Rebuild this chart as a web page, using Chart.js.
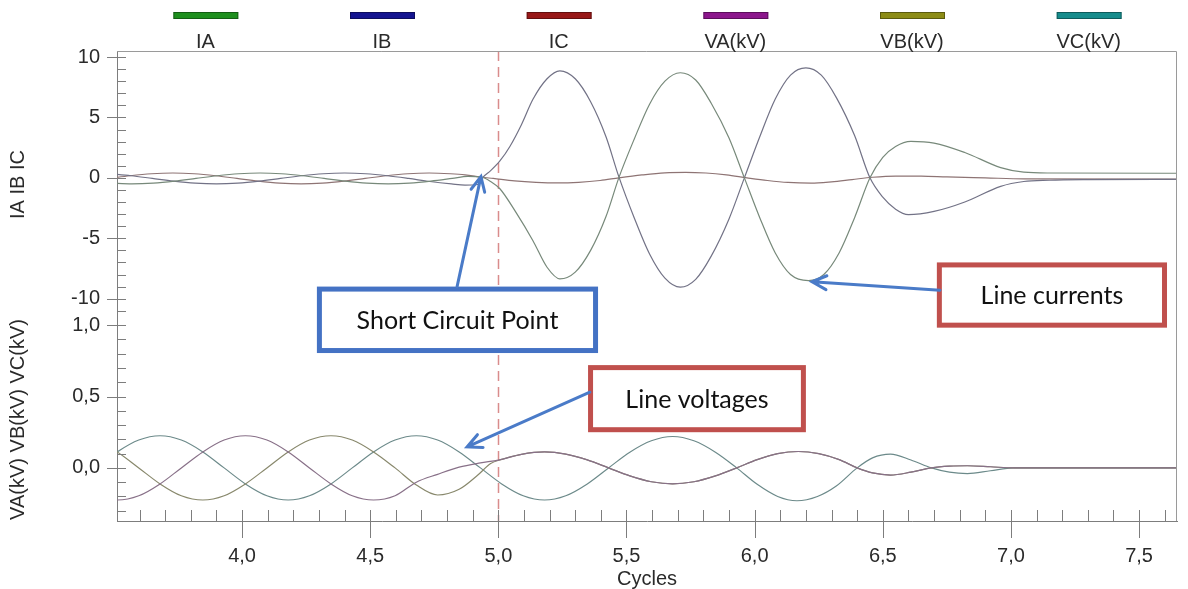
<!DOCTYPE html>
<html>
<head>
<meta charset="utf-8">
<title>Short circuit – line currents and voltages</title>
<script src="https://cdn.jsdelivr.net/npm/chart.js@4.4.1/dist/chart.umd.min.js"></script>
<style>
  html, body { margin: 0; padding: 0; background: #fff; }
  #wrap { position: relative; width: 1188px; height: 589px; }
</style>
</head>
<body>
<div id="wrap"><canvas id="chart"></canvas></div>
<script>
// Courbes relevées à l'œil sur l'oscillogramme (abscisse en cycles)

// ── Courants de ligne (panneau du haut) ─────────────
const iaCycles = [3.487, 3.570, 3.653, 3.737, 3.820, 3.903, 3.987, 4.070, 4.153, 4.237, 4.320, 4.403, 4.487, 4.570, 4.653, 4.737, 4.820, 4.880, 4.936,
    4.970, 5.006, 5.070, 5.135, 5.190, 5.240, 5.300, 5.360, 5.420, 5.470, 5.530, 5.590, 5.650, 5.710, 5.770, 5.830, 5.900, 5.960,
    6.020, 6.080, 6.140, 6.210, 6.270, 6.330, 6.390, 6.450, 6.500, 6.550, 6.610, 6.700, 6.820, 6.960, 7.050, 7.150, 7.700];
const iaValues = [-0.44, -0.50, -0.44, -0.275, -0.05, 0.175, 0.34, 0.40, 0.34, 0.175, -0.05, -0.275, -0.44, -0.50, -0.44, -0.275, -0.05, 0.12, 0.05,
    -0.3, -0.9, -2.9, -5.2, -7.4, -8.36, -7.8, -6.0, -3.2, 0, 3.2, 6.1, 8.0, 8.7, 8.1, 6.2, 3.3, 0,
    -3.3, -6.2, -8.0, -8.5, -8.0, -6.2, -3.3, 0, 1.7, 2.6, 3.02, 2.88, 2.1, 0.85, 0.47, 0.4, 0.38];

const ibCycles = [3.483, 3.567, 3.650, 3.733, 3.817, 3.900, 3.983, 4.067, 4.150, 4.233, 4.317, 4.400, 4.483, 4.567, 4.650, 4.733, 4.817, 4.870, 4.920, 4.940,
    4.970, 5.006, 5.045, 5.090, 5.135, 5.190, 5.240, 5.300, 5.360, 5.420, 5.470, 5.530, 5.590, 5.650, 5.710, 5.770, 5.830, 5.900, 5.960,
    6.020, 6.080, 6.140, 6.200, 6.260, 6.320, 6.390, 6.450, 6.500, 6.550, 6.600, 6.700, 6.820, 6.960, 7.050, 7.150, 7.300, 7.700];
const ibValues = [0.34, 0.175, -0.05, -0.275, -0.44, -0.50, -0.44, -0.275, -0.05, 0.175, 0.34, 0.40, 0.34, 0.175, -0.05, -0.3, -0.5, -0.6, -0.55, 0.05,
    0.6, 1.4, 2.6, 4.4, 6.5, 8.2, 8.86, 8.2, 6.3, 3.4, 0.1, -3.3, -6.3, -8.3, -9.05, -8.4, -6.5, -3.4, 0,
    3.4, 6.5, 8.5, 9.1, 8.5, 6.6, 3.5, 0, -1.6, -2.6, -3.05, -2.78, -2.0, -0.7, -0.3, -0.2, -0.15, -0.12];

const icCycles = [3.480, 3.563, 3.647, 3.730, 3.813, 3.897, 3.980, 4.063, 4.147, 4.230, 4.313, 4.397, 4.480, 4.563, 4.647, 4.730, 4.813,
    4.870, 4.936, 4.980, 5.063, 5.147, 5.230, 5.313, 5.397, 5.470,
    5.560, 5.650, 5.730, 5.810, 5.890, 5.970, 6.050, 6.130, 6.220, 6.300, 6.380, 6.460, 6.550, 6.650, 6.750, 6.900, 7.050, 7.700];
const icValues = [-0.05, 0.175, 0.34, 0.40, 0.34, 0.175, -0.05, -0.275, -0.44, -0.50, -0.44, -0.275, -0.05, 0.175, 0.34, 0.40, 0.34,
    0.25, 0.05, -0.05, -0.25, -0.37, -0.42, -0.37, -0.22, 0,
    0.24, 0.42, 0.46, 0.40, 0.24, 0, -0.22, -0.38, -0.44, -0.33, -0.14, 0.05, 0.15, 0.14, 0.08, 0, -0.08, -0.1];

// ── Tensions de ligne en kV (panneau du bas) ────────
const vaCycles = [3.430, 3.513, 3.597, 3.680, 3.763, 3.847, 3.930, 4.013, 4.097, 4.180, 4.263, 4.347, 4.430, 4.513, 4.597, 4.680, 4.763, 4.847, 4.930,
    5.000, 5.090, 5.180, 5.263, 5.347, 5.430, 5.513, 5.597, 5.680, 5.763, 5.847, 5.930,
    6.010, 6.090, 6.170, 6.250, 6.330, 6.400, 6.460, 6.530, 6.610, 6.690, 6.760, 6.830, 6.920, 7.010, 7.700];
const vaValues = [-0.195, -0.225, -0.195, -0.112, 0, 0.112, 0.195, 0.225, 0.195, 0.112, 0, -0.112, -0.195, -0.225, -0.195, -0.10, -0.045, 0.005, 0.035,
    0.055, 0.095, 0.112, 0.097, 0.056, 0, -0.056, -0.097, -0.112, -0.097, -0.056, 0,
    0.058, 0.1, 0.115, 0.1, 0.058, 0, -0.035, -0.05, -0.03, 0, 0.012, 0.015, 0.008, 0, 0];

const vbCycles = [3.430, 3.513, 3.597, 3.680, 3.763, 3.847, 3.930, 4.013, 4.097, 4.180, 4.263, 4.347, 4.430, 4.513, 4.597, 4.680, 4.763, 4.847,
    4.920, 4.970, 5.010, 5.090, 5.180, 5.263, 5.347, 5.430, 5.513, 5.597, 5.680, 5.763, 5.847, 5.930,
    6.010, 6.090, 6.170, 6.250, 6.330, 6.400, 6.460, 6.530, 6.610, 6.690, 6.760, 6.830, 6.920, 7.010, 7.700];
const vbValues = [0.195, 0.112, 0, -0.112, -0.195, -0.225, -0.195, -0.112, 0, 0.112, 0.195, 0.225, 0.195, 0.112, 0, -0.12, -0.19, -0.15,
    -0.05, 0.03, 0.058, 0.095, 0.112, 0.097, 0.056, 0, -0.056, -0.097, -0.112, -0.097, -0.056, 0,
    0.058, 0.1, 0.115, 0.1, 0.058, 0, -0.035, -0.05, -0.03, 0, 0.012, 0.015, 0.008, 0, 0];

const vcCycles = [3.430, 3.513, 3.597, 3.680, 3.763, 3.847, 3.930, 4.013, 4.097, 4.180, 4.263, 4.347, 4.430, 4.513, 4.597, 4.680, 4.763, 4.847, 4.930,
    5.013, 5.097, 5.180, 5.263, 5.347, 5.430, 5.513, 5.597, 5.680, 5.763, 5.847, 5.930,
    6.010, 6.090, 6.165, 6.245, 6.320, 6.400, 6.460, 6.530, 6.610, 6.690, 6.760, 6.830, 6.920, 7.010, 7.700];
const vcValues = [0, 0.112, 0.195, 0.225, 0.195, 0.112, 0, -0.112, -0.195, -0.225, -0.195, -0.112, 0, 0.112, 0.195, 0.225, 0.195, 0.112, 0,
    -0.112, -0.195, -0.225, -0.195, -0.112, 0, 0.11, 0.19, 0.22, 0.19, 0.11, 0,
    -0.115, -0.2, -0.23, -0.2, -0.125, 0, 0.07, 0.096, 0.055, 0, -0.03, -0.04, -0.02, 0, 0];

// Instant du court-circuit (ligne pointillée) et plages des axes
const FAULT_CYCLE = 5.0;
const X_RANGE = [3.512, 7.648];
const I_RANGE = [-11.6, 10.5];
const V_RANGE = [-0.372, 1.05];

// Encadrés d'annotation : boîte [x0, x1, y0, y1] et flèche [queue, pointe], en unités des axes
const CALLOUTS = [
    { text: 'Short Circuit Point', border: '#4472c4', axis: 'yI', box: [4.292, 5.389, -9.0, -14.5], tail: [4.839, -9.0], tip: [4.932, 0.1] },
    { text: 'Line currents', border: '#c0504d', axis: 'yI', box: [6.711, 7.609, -7.0, -12.4], tail: [6.723, -9.3], tip: [6.224, -8.6] },
    { text: 'Line voltages', border: '#c0504d', axis: 'yV', box: [5.350, 6.200, 0.72, 0.25], tail: [5.357, 0.53], tip: [4.878, 0.147] },
];

const SERIES = [
    { label: 'IA', key: '#1e8f1e', trace: '#77897a', axis: 'yI', x: iaCycles, y: iaValues },
    { label: 'IB', key: '#141490', trace: '#727286', axis: 'yI', x: ibCycles, y: ibValues },
    { label: 'IC', key: '#981818', trace: '#8e7474', axis: 'yI', x: icCycles, y: icValues },
    { label: 'VA(kV)', key: '#8c168c', trace: '#887088', axis: 'yV', x: vaCycles, y: vaValues },
    { label: 'VB(kV)', key: '#8c8c16', trace: '#88886c', axis: 'yV', x: vbCycles, y: vbValues },
    { label: 'VC(kV)', key: '#168c8c', trace: '#6c8a8a', axis: 'yV', x: vcCycles, y: vcValues },
];

const FONT = '"Liberation Sans", Arial, sans-serif';
const INK = '#2a2a2a';
const AXIS = '#7d7d7d';

const onStep = (v, step) => Math.abs(v / step - Math.round(v / step)) < 1e-6;
const comma = (v) => v.toFixed(1).replace('.', ',');

// ── Décor : graduations, cadre, légende, encadrés ───
function drawTickMarks(ctx, chart) {
    const area = chart.chartArea;
    ctx.strokeStyle = AXIS;
    ctx.lineWidth = 1;
    ctx.beginPath();
    for (const id of ['yI', 'yV']) {
        const scale = chart.scales[id];
        scale.ticks.forEach((t) => {
            const y = Math.round(scale.getPixelForValue(t.value)) + 0.5;
            const major = t.label !== '';
            ctx.moveTo(area.left - (major ? 10 : 0), y);
            ctx.lineTo(area.left + 9, y);
        });
    }
    const xs = chart.scales.x;
    xs.ticks.forEach((t) => {
        const x = Math.round(xs.getPixelForValue(t.value)) + 0.5;
        const major = t.label !== '';
        ctx.moveTo(x, area.bottom - 11);
        ctx.lineTo(x, area.bottom + (major ? 17 : 0));
    });
    ctx.stroke();
}

function drawLegend(ctx, chart) {
    const area = chart.chartArea;
    const col = area.width / SERIES.length;
    ctx.font = `20px ${FONT}`;
    ctx.textAlign = 'center';
    ctx.textBaseline = 'middle';
    SERIES.forEach((s, i) => {
        const cx = area.left + col * (i + 0.5);
        ctx.fillStyle = s.key;
        ctx.fillRect(cx - 32, 12, 65, 7);
        ctx.strokeStyle = 'rgba(0,0,0,0.35)';
        ctx.lineWidth = 1;
        ctx.strokeRect(cx - 32 + 0.5, 12.5, 64, 6);
        ctx.fillStyle = INK;
        ctx.fillText(s.label, cx, 42);
    });
}

function drawArrow(ctx, x0, y0, x1, y1) {
    const ang = Math.atan2(y1 - y0, x1 - x0);
    const head = 16;
    ctx.beginPath();
    ctx.moveTo(x0, y0);
    ctx.lineTo(x1, y1);
    ctx.moveTo(x1 - head * Math.cos(ang - 0.45), y1 - head * Math.sin(ang - 0.45));
    ctx.lineTo(x1, y1);
    ctx.lineTo(x1 - head * Math.cos(ang + 0.45), y1 - head * Math.sin(ang + 0.45));
    ctx.stroke();
}

function drawCallouts(ctx, chart) {
    const xs = chart.scales.x;
    for (const c of CALLOUTS) {
        const ys = chart.scales[c.axis];
        const left = xs.getPixelForValue(c.box[0]);
        const right = xs.getPixelForValue(c.box[1]);
        const top = ys.getPixelForValue(c.box[2]);
        const bottom = ys.getPixelForValue(c.box[3]);
        ctx.fillStyle = '#fff';
        ctx.fillRect(left, top, right - left, bottom - top);
        ctx.lineWidth = 5;
        ctx.strokeStyle = c.border;
        ctx.strokeRect(left + 2.5, top + 2.5, right - left - 5, bottom - top - 5);
        ctx.fillStyle = '#111';
        ctx.font = '25px Lato, "Open Sans", sans-serif';
        ctx.textAlign = 'center';
        ctx.textBaseline = 'middle';
        ctx.fillText(c.text, (left + right) / 2, (top + bottom) / 2 + 1);

        ctx.strokeStyle = '#4a7bc8';
        ctx.lineWidth = 3;
        ctx.lineCap = 'round';
        drawArrow(ctx,
            xs.getPixelForValue(c.tail[0]), ys.getPixelForValue(c.tail[1]),
            xs.getPixelForValue(c.tip[0]), ys.getPixelForValue(c.tip[1]));
        ctx.lineCap = 'butt';
    }
}

const decor = {
    id: 'decor',
    beforeDatasetsDraw(chart) {
        const { ctx, chartArea: area } = chart;
        const x = Math.round(chart.scales.x.getPixelForValue(FAULT_CYCLE)) + 0.5;
        ctx.save();
        ctx.strokeStyle = '#d98c8c';
        ctx.lineWidth = 1.5;
        ctx.setLineDash([10, 6]);
        ctx.beginPath();
        ctx.moveTo(x, area.top);
        ctx.lineTo(x, area.bottom);
        ctx.stroke();
        ctx.restore();
    },
    afterDraw(chart) {
        const { ctx, chartArea: area } = chart;
        ctx.save();
        // cadre haut / droite
        ctx.strokeStyle = '#9a9a9a';
        ctx.lineWidth = 1;
        ctx.beginPath();
        ctx.moveTo(area.left, area.top + 0.5);
        ctx.lineTo(area.right - 0.5, area.top + 0.5);
        ctx.lineTo(area.right - 0.5, area.bottom);
        ctx.stroke();
        drawTickMarks(ctx, chart);
        drawLegend(ctx, chart);
        drawCallouts(ctx, chart);
        ctx.restore();
    },
};

function yAxis(range, weight, step, labelStep, format, title) {
    return {
        type: 'linear',
        position: 'left',
        stack: 'panels',
        stackWeight: weight,
        min: range[0],
        max: range[1],
        afterFit: (s) => { s.width = 117; },
        border: { display: true, color: AXIS },
        grid: { display: false, drawTicks: false },
        ticks: {
            stepSize: step,
            autoSkip: false,
            includeBounds: false,
            maxTicksLimit: 100,
            padding: 17,
            color: INK,
            font: { family: FONT, size: 20 },
            callback: (v) => (onStep(v, labelStep) ? format(v) : ''),
        },
        title: { display: true, text: title, color: INK, font: { family: FONT, size: 20 }, padding: { top: 6, bottom: 0 } },
    };
}

new Chart(document.getElementById('chart'), {
    type: 'line',
    data: {
        datasets: SERIES.map((s) => ({
            label: s.label,
            data: s.x.map((x, i) => ({ x, y: s.y[i] })),
            yAxisID: s.axis,
            borderColor: s.trace,
            borderWidth: 1.2,
            pointRadius: 0,
            fill: false,
            cubicInterpolationMode: 'monotone',
        })),
    },
    options: {
        responsive: true,
        maintainAspectRatio: false,
        animation: false,
        layout: { padding: { top: 51, right: 11, left: 0, bottom: 0 } },
        plugins: { legend: { display: false }, tooltip: { enabled: false } },
        scales: {
            x: {
                type: 'linear',
                min: X_RANGE[0],
                max: X_RANGE[1],
                afterFit: (s) => { s.height = 68; },
                border: { display: true, color: AXIS },
                grid: { display: false, drawTicks: false },
                ticks: {
                    stepSize: 0.1,
                    autoSkip: false,
                    includeBounds: false,
                    maxTicksLimit: 100,
                    maxRotation: 0,
                    padding: 23,
                    color: INK,
                    font: { family: FONT, size: 20 },
                    callback: (v) => (onStep(v, 0.5) ? comma(v) : ''),
                },
                title: { display: true, text: 'Cycles', color: INK, font: { family: FONT, size: 20, lineHeight: 1 }, padding: { top: 0, bottom: 0 } },
            },
            // le panneau des tensions est déclaré en premier : Chart.js empile de bas en haut
            yV: yAxis(V_RANGE, 203, 0.1, 0.5, comma, 'VA(kV) VB(kV) VC(kV)'),
            yI: yAxis(I_RANGE, 267, 1, 5, (v) => String(v), 'IA IB IC'),
        },
    },
    plugins: [decor],
});
</script>
</body>
</html>
